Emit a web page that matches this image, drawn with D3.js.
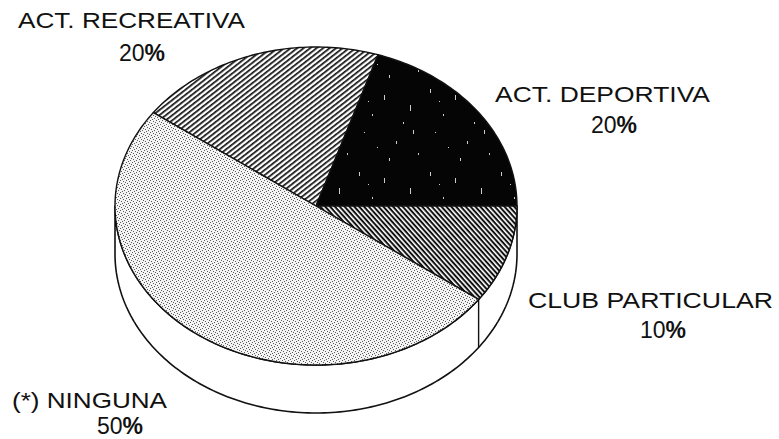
<!DOCTYPE html>
<html>
<head>
<meta charset="utf-8">
<script src="https://cdn.jsdelivr.net/npm/d3@7"></script>
<style>
  body { margin: 0; background: #fff; }
  svg { display: block; }
  text { font-family: "Liberation Sans", Arial, sans-serif; fill: #111; }
</style>
</head>
<body>
<div id="chart"></div>
<script>
// data
const categories = ['ACT. RECREATIVA', 'ACT. DEPORTIVA', 'CLUB PARTICULAR', '(*) NINGUNA'];
const values = [20, 20, 10, 50];
const pctLabels = ['20', '20', '10', '50'];

// Variables
const w = 779;
const h = 439;
const cx = 316;
const cy = 206;
const rx = 201;
const ry = 159;
const depth = 48;

// label layout (left x, baseline y, width, pct centre x, pct baseline)
const labelPos = [
  [18, 28, 227, 142, 61],
  [495, 102, 215, 614, 133],
  [528, 308, 245, 663, 338],
  [12, 408, 155, 120, 434],
];
const fills = ['url(#hatchUp)', 'url(#darkSpeck)', 'url(#hatchDown)', 'url(#stipple)'];

const svg = d3
  .select('#chart')
  .append('svg')
  .attr('width', w)
  .attr('height', h);

const defs = svg.append('defs');

// patterns
const up = defs
  .append('pattern')
  .attr('id', 'hatchUp')
  .attr('patternUnits', 'userSpaceOnUse')
  .attr('width', 4)
  .attr('height', 4)
  .attr('patternTransform', 'rotate(-38)');
up.append('rect').attr('width', 4).attr('height', 4).attr('fill', '#fff');
up.append('rect').attr('width', 4).attr('height', 1.7).attr('fill', '#111');

const down = defs
  .append('pattern')
  .attr('id', 'hatchDown')
  .attr('patternUnits', 'userSpaceOnUse')
  .attr('width', 3.6)
  .attr('height', 3.6)
  .attr('patternTransform', 'rotate(48)');
down.append('rect').attr('width', 3.6).attr('height', 3.6).attr('fill', '#fff');
down.append('rect').attr('width', 3.6).attr('height', 2).attr('fill', '#111');

// mostly black with a few irregular light streaks
const speck = defs
  .append('pattern')
  .attr('id', 'darkSpeck')
  .attr('patternUnits', 'userSpaceOnUse')
  .attr('width', 71)
  .attr('height', 83);
speck.append('rect').attr('width', 71).attr('height', 83).attr('fill', '#050505');
[
  [4, 6, 1, 4], [17, 31, 1, 2], [29, 12, 1, 5], [41, 58, 1, 3], [55, 22, 1, 6],
  [63, 70, 1, 2], [9, 49, 1, 1], [34, 75, 1, 3], [48, 39, 1, 2], [22, 64, 1, 1],
  [58, 47, 1, 4], [13, 18, 1, 1],
].forEach(s => {
  speck
    .append('rect')
    .attr('x', s[0])
    .attr('y', s[1])
    .attr('width', s[2])
    .attr('height', s[3])
    .attr('fill', '#ccc');
});

const stip = defs
  .append('pattern')
  .attr('id', 'stipple')
  .attr('patternUnits', 'userSpaceOnUse')
  .attr('width', 6)
  .attr('height', 6);
stip.append('rect').attr('width', 6).attr('height', 6).attr('fill', '#f4f4f4');
[[0, 0], [3, 1], [1, 3], [4, 4], [5, 2], [2, 5]].forEach(p => {
  stip
    .append('rect')
    .attr('x', p[0])
    .attr('y', p[1])
    .attr('width', 1)
    .attr('height', 1)
    .attr('fill', '#5a5a5a');
});

// pie layout: d3 angle 0 = up, clockwise
const pie = d3
  .pie()
  .sort(null)
  .startAngle(-Math.PI * 0.3)
  .endAngle(-Math.PI * 0.3 + 2 * Math.PI);
const arcs = pie(values);

const px = a => cx + rx * Math.sin(a);
const py = (a, dy = 0) => cy - ry * Math.cos(a) + dy;
const line = d3.line();

function rimPoints(a0, a1, dy) {
  const n = Math.max(2, Math.ceil(Math.abs(a1 - a0) / 0.02));
  return d3.range(n + 1).map(i => {
    const a = a0 + ((a1 - a0) * i) / n;
    return [px(a), py(a, dy)];
  });
}

// side wall (front half, angles PI/2 .. 3PI/2)
const sidePts = rimPoints(Math.PI / 2, (3 * Math.PI) / 2, 0).concat(
  rimPoints((3 * Math.PI) / 2, Math.PI / 2, depth)
);
svg
  .append('path')
  .attr('d', line(sidePts) + 'Z')
  .attr('fill', '#fff')
  .attr('stroke', '#111')
  .attr('stroke-width', 1.6)
  .attr('stroke-linejoin', 'round');

// vertical edges at slice boundaries on the front
arcs.forEach(d => {
  const a = d.endAngle % (2 * Math.PI);
  if (a > Math.PI / 2 + 0.01 && a < (3 * Math.PI) / 2 - 0.01) {
    svg
      .append('line')
      .attr('x1', px(a))
      .attr('x2', px(a))
      .attr('y1', py(a))
      .attr('y2', py(a, depth))
      .attr('stroke', '#111')
      .attr('stroke-width', 1.4);
  }
});

// top slices
svg
  .selectAll('path.slice')
  .data(arcs)
  .enter()
  .append('path')
  .attr('class', 'slice')
  .attr('d', d => line([[cx, cy]].concat(rimPoints(d.startAngle, d.endAngle, 0))) + 'Z')
  .attr('fill', (d, i) => fills[i])
  .attr('stroke', '#111')
  .attr('stroke-width', 1.4)
  .attr('stroke-linejoin', 'round');

// labels
const lab = svg
  .selectAll('g.label')
  .data(categories)
  .enter()
  .append('g')
  .attr('class', 'label');

lab
  .append('text')
  .attr('x', (d, i) => labelPos[i][0])
  .attr('y', (d, i) => labelPos[i][1])
  .attr('textLength', (d, i) => labelPos[i][2])
  .attr('lengthAdjust', 'spacingAndGlyphs')
  .attr('font-size', '22px')
  .text(d => d);

const pct = lab
  .append('text')
  .attr('x', (d, i) => labelPos[i][3])
  .attr('y', (d, i) => labelPos[i][4])
  .attr('text-anchor', 'middle')
  .attr('font-size', '23px');
pct.append('tspan').text((d, i) => pctLabels[i]);
pct
  .append('tspan')
  .attr('font-weight', 'bold')
  .text('%');
</script>
</body>
</html>
